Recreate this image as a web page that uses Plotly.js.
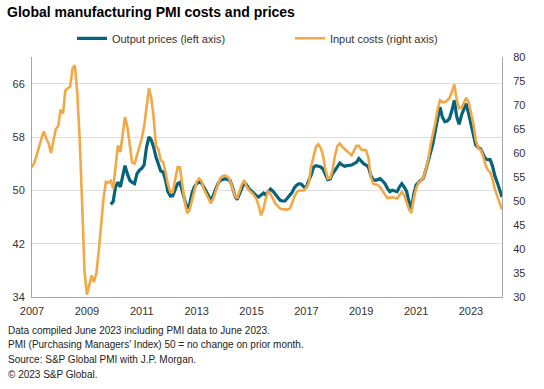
<!DOCTYPE html>
<html>
<head>
<meta charset="utf-8">
<script src="https://cdn.plot.ly/plotly-3.0.1.min.js"></script>
<style>
html,body{margin:0;padding:0;background:#fff;}
#chart{width:544px;height:389px;}
</style>
</head>
<body>
<div id="chart"></div>
<script>
// Monthly series, input costs from Jan 2007, output prices from Oct 2009, both to Jun 2023
const inputStart = [2007, 1];
const outputStart = [2009, 10];

const inputCosts = [
  57, 58, 59.5, 61.5, 63, 64.5, 63, 62, 60, 62.5, 65, 65.6,
  69, 68.2, 73, 73.5, 73.8, 77.6, 78.3, 72.4, 62.6, 49.6, 35.4, 30.5,
  32.5, 34.5, 33.1, 35, 39.5, 46, 50.5, 54, 53.8, 54.2, 52.6, 57,
  61.6, 60.2, 64, 67.5, 65.5, 61.7, 58, 57.8, 59.5, 61, 63, 65.5,
  69.5, 73.5, 71.6, 67.5, 61.5, 60.8, 58.5, 58.1, 56, 53.5, 51.9, 51.9,
  54.5, 57, 57, 53, 50, 47.5, 48, 50, 52, 54, 54.7, 54.2,
  52.5, 51.5, 50.8, 49.5, 50.5, 52.3, 53.5, 54.8, 55.2, 55.35, 55, 54.3,
  52.5, 51.2, 50.5, 52, 53.5, 54.3, 53, 52.2, 51.8, 51.2, 50.5, 49,
  47, 48.4, 50.5, 52, 51.5, 50.5, 49.5, 49, 48.4, 48.3, 48.2, 48.2,
  48.4, 49.5, 51, 51.8, 52.2, 52.2, 52.2, 52.8, 53.8, 57.2, 59.6, 61.3,
  61.8, 61, 59.5, 56.5, 54.7, 54.8, 56.5, 59.5, 61.5, 62, 61.3, 60.8,
  60.3, 59.8, 59.5, 60.5, 61.5, 61.5, 60.7, 60.6, 60.6, 59, 55, 53.6,
  53.4, 53.3, 52.8, 52, 51.2, 50.6, 50.7, 50.8, 50.6, 50.5, 51.2, 51.9,
  51.2, 49.8, 48.3, 47.5, 50.5, 52.6, 53.8, 54.2, 54.8, 56.5, 58.5, 61.5,
  63.8, 66.4, 69, 71, 70.6, 70.6, 70.9, 71.5, 72.8, 74.3, 71, 69.3,
  69.4, 70.5, 71.5, 70.6, 68.5, 66.1, 62.8, 61, 60.7, 59.5, 57.6, 56.5,
  56, 54.5, 52.5, 50.9, 49.5, 48.2
];

const outputPrices = [
  47.9, 48.3, 50.5,
  51.2, 50.5, 52, 53.7, 52.5, 51.5, 51.2, 51, 52.5, 53, 53.3, 53.8,
  56.5, 58, 57.6, 56.5, 55, 54, 52.9, 52.75, 51.5, 49.8, 49.15, 49.2,
  50, 51, 51.2, 50, 48.5, 47.3, 47.8, 49.5, 50.5, 51, 51.25, 51.1,
  50.5, 49.7, 49.2, 48.5, 49.2, 50.2, 51, 51.5, 51.6, 51.75, 51.6, 51.5,
  50.5, 49.2, 48.6, 49.5, 50.6, 51.2, 50.8, 50.2, 49.9, 49.5, 49.2, 49,
  49.3, 49.6, 49.3, 49.8, 50.2, 49.9, 49.4, 48.9, 48.5, 48.4, 48.4, 48.8,
  49.2, 49.7, 50.4, 50.8, 51, 50.9, 50.5, 50.5, 51.5, 52.3, 53.5, 53.7,
  53.6, 53.5, 53.2, 52.5, 51.6, 51.7, 52.5, 53, 53.5, 54.1, 53.8, 53.6,
  53.7, 53.75, 53.8, 54, 54.2, 54.75, 54.3, 54, 53.8, 53.5, 52.2, 51.6,
  51.5, 51.7, 51.75, 51.4, 51, 50.3, 49.8, 50, 49.9, 49.8, 50.5, 51,
  50.5, 49.8, 48.3, 47.3, 49.4, 50.8, 51.2, 51.5, 51.8, 53, 54.3, 55.8,
  57, 59, 61, 62.5, 61, 60.3, 60.4, 60.8, 62, 63.5, 61, 59.9,
  61.3, 62.3, 63, 61.5, 59.8, 58.5, 56.8, 56.4, 56.2, 55.5, 54.75, 54.6,
  54.6, 53.6, 52.2, 51.2, 50.2, 49
];

const xTickLabels = ['2007','2009','2011','2013','2015','2017','2019','2021','2023'];
const xTickEveryMonths = 23;
const leftTicks = [34, 42, 50, 58, 66];
const rightTicks = [30, 35, 40, 45, 50, 55, 60, 65, 70, 75, 80];

const seriesNames = ['Output prices (left axis)', 'Input costs (right axis)'];
const footnotes = [
  'Data compiled June 2023 including PMI data to June 2023.',
  "PMI (Purchasing Managers' Index) 50 = no change on prior month.",
  'Source: S&P Global PMI with J.P. Morgan.',
  '\u00A9 2023 S&P Global.'
];

function monthDates(start, n) {
  const out = [];
  for (let k = 0; k < n; k++) {
    const m0 = start[1] - 1 + k;
    const y = start[0] + Math.floor(m0 / 12);
    const m = (m0 % 12) + 1;
    out.push(y + '-' + String(m).padStart(2, '0') + '-01');
  }
  return out;
}

const inputDates = monthDates(inputStart, inputCosts.length);
const outputDates = monthDates(outputStart, outputPrices.length);
const tickDates = xTickLabels.map((_, k) => inputDates[k * xTickEveryMonths]);

const FONT = 'Liberation Sans, Arial, sans-serif';
const BLUE = '#06637c';
const ORANGE = '#f2a845';

const traces = [
  {
    x: outputDates, y: outputPrices, name: seriesNames[0],
    type: 'scatter', mode: 'lines', yaxis: 'y',
    line: {color: BLUE, width: 3.2}
  },
  {
    x: inputDates, y: inputCosts, name: seriesNames[1],
    type: 'scatter', mode: 'lines', yaxis: 'y2',
    line: {color: ORANGE, width: 2.6}
  }
];

const annotations = footnotes.map((t, k) => ({
  text: t, xref: 'paper', yref: 'paper',
  x: -0.055, y: -0.138 - k * 0.061, xanchor: 'left', yanchor: 'middle',
  showarrow: false, align: 'left',
  font: {family: FONT, size: 10, color: '#222'}
}));

const layout = {
  width: 544, height: 389,
  margin: {l: 32, r: 42, t: 57, b: 92, pad: 0},
  paper_bgcolor: '#fff', plot_bgcolor: '#fff',
  font: {family: FONT, size: 11, color: '#333'},
  title: {
    text: '<b>Global manufacturing PMI costs and prices</b>',
    x: 0.013, xref: 'container', xanchor: 'left',
    y: 0.969, yref: 'container', yanchor: 'middle',
    font: {family: FONT, size: 14, color: '#000'}
  },
  showlegend: true,
  legend: {
    orientation: 'h', x: 0.085, xanchor: 'left', y: 1.078, yanchor: 'middle',
    font: {family: FONT, size: 11, color: '#333'},
    entrywidth: 173, entrywidthmode: 'pixels',
    bgcolor: 'rgba(0,0,0,0)'
  },
  xaxis: {
    type: 'date',
    range: [inputDates[0], inputDates[inputDates.length - 1]],
    tickmode: 'array', tickvals: tickDates, ticktext: xTickLabels,
    showgrid: false, zeroline: false,
    showline: true, linecolor: '#a6a6a6', linewidth: 1,
    ticks: '', tickfont: {family: FONT, size: 11, color: '#333'},
    ticklabelstandoff: 4
  },
  yaxis: {
    range: [34, 70], tickmode: 'array', tickvals: leftTicks,
    showgrid: true, gridcolor: '#dedede', gridwidth: 1,
    zeroline: false, showline: true, linecolor: '#a6a6a6', linewidth: 1,
    ticks: '', tickfont: {family: FONT, size: 11, color: '#333'},
    ticklabelstandoff: 4
  },
  yaxis2: {
    range: [30, 80], tickmode: 'array', tickvals: rightTicks,
    overlaying: 'y', side: 'right',
    showgrid: false, zeroline: false,
    showline: true, linecolor: '#a6a6a6', linewidth: 1,
    ticks: '', tickfont: {family: FONT, size: 11, color: '#333'},
    ticklabelstandoff: 8
  },
  annotations: annotations
};

Plotly.newPlot('chart', traces, layout, {staticPlot: true, displayModeBar: false});
</script>
</body>
</html>
